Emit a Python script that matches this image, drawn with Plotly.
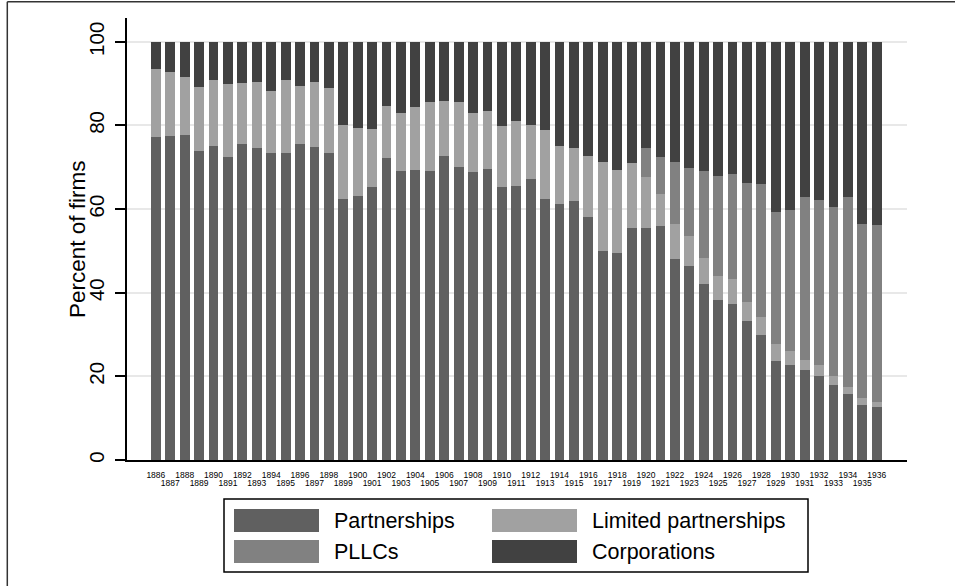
import plotly.graph_objects as go

# Share of firms by legal form, 1886-1936 (percent)
years = list(range(1886, 1937))

partnerships = [
    77.3, 77.6, 77.7, 73.9, 75.1, 72.4, 75.5, 74.7, 73.5, 73.3,
    75.5, 74.9, 73.3, 62.5, 63.2, 65.2, 72.3, 69.2, 69.3, 69.2,
    72.7, 70.1, 68.8, 69.7, 65.3, 65.6, 67.1, 62.5, 61.3, 61.9,
    58.2, 49.9, 49.5, 55.6, 55.4, 55.9, 48.1, 46.3, 42.0, 38.2,
    37.2, 33.2, 29.9, 23.7, 22.7, 21.6, 20.1, 17.9, 15.8, 13.1,
    12.7,
]
limited_partnerships = [
    16.2, 15.1, 13.9, 15.2, 15.7, 17.6, 14.6, 15.8, 14.7, 17.5,
    13.9, 15.5, 15.6, 17.5, 16.2, 13.9, 12.3, 13.7, 15.2, 16.3,
    13.1, 15.5, 14.1, 13.7, 14.5, 15.4, 12.9, 16.4, 13.8, 12.8,
    14.5, 21.3, 19.8, 15.4, 12.3, 7.7, 8.3, 7.2, 6.2, 5.7,
    6.1, 4.7, 4.2, 4.1, 3.3, 2.2, 2.7, 2.1, 1.7, 1.8,
    1.1,
]
pllcs = [
    0, 0, 0, 0, 0, 0, 0, 0, 0, 0,
    0, 0, 0, 0, 0, 0, 0, 0, 0, 0,
    0, 0, 0, 0, 0, 0, 0, 0, 0, 0,
    0, 0, 0, 0, 7.0, 8.9, 14.8, 16.4, 20.9, 24.1,
    25.2, 28.3, 32.0, 31.4, 33.8, 39.1, 39.4, 40.4, 45.4, 41.5,
    42.4,
]
corporations = [
    6.5, 7.3, 8.4, 10.9, 9.2, 10.0, 9.9, 9.5, 11.8, 9.2,
    10.6, 9.6, 11.1, 20.0, 20.6, 20.9, 15.4, 17.1, 15.5, 14.5,
    14.2, 14.4, 17.1, 16.6, 20.2, 19.0, 20.0, 21.1, 24.9, 25.3,
    27.3, 28.8, 30.7, 29.0, 25.3, 27.5, 28.8, 30.1, 30.9, 32.0,
    31.5, 33.8, 33.9, 40.8, 40.2, 37.1, 37.8, 39.6, 37.1, 43.6,
    43.8,
]

series = [
    ("Partnerships", partnerships, "#606060"),
    ("Limited partnerships", limited_partnerships, "#a1a1a1"),
    ("PLLCs", pllcs, "#818181"),
    ("Corporations", corporations, "#414141"),
]

y_ticks = [0, 20, 40, 60, 80, 100]
even_years = [y for y in years if y % 2 == 0]
odd_years = [y for y in years if y % 2 == 1]

W, H = 955, 586
L, R, T, B = 127, 907, 18, 460   # plot area in pixels
FONT = "Liberation Sans, Arial, sans-serif"


def px_x(x):
    return (x - L) / (R - L)


def px_y(y):
    return (B - y) / (B - T)


fig = go.Figure()
for name, vals, color in series:
    fig.add_trace(go.Bar(
        x=years, y=vals, name=name,
        marker=dict(color=color, line=dict(width=0)),
        showlegend=False,
    ))

fig.update_layout(
    barmode="stack",
    bargap=0.32,
    width=W, height=H,
    margin=dict(l=L, r=W - R, t=T, b=H - B, autoexpand=False),
    paper_bgcolor="white",
    plot_bgcolor="white",
    font=dict(family=FONT, color="black"),
    xaxis=dict(
        range=[1884.0, 1938.1],
        tickmode="array",
        tickvals=even_years,
        ticktext=[str(y) for y in even_years],
        ticks="",
        tickfont=dict(size=8.5, color="black"),
        ticklabelstandoff=6,
        showgrid=False,
        zeroline=False,
        showline=True, linecolor="black", linewidth=1.5,
        fixedrange=True,
    ),
    xaxis2=dict(
        overlaying="x",
        anchor="y",
        side="bottom",
        matches="x",
        tickmode="array",
        tickvals=odd_years,
        ticktext=[str(y) for y in odd_years],
        ticks="",
        tickfont=dict(size=8.5, color="black"),
        ticklabelstandoff=16,
        showgrid=False,
        zeroline=False,
        showline=False,
    ),
    yaxis=dict(
        range=[0, 105.7],
        tickmode="array",
        tickvals=y_ticks,
        ticktext=[str(v) for v in y_ticks],
        tickangle=-90,
        ticks="outside", ticklen=10, tickwidth=1.5, tickcolor="black",
        tickfont=dict(size=20.5, color="black"),
        ticklabelstandoff=3,
        showgrid=True, gridcolor="#e8e8e8", gridwidth=1.5,
        zeroline=False,
        showline=True, linecolor="black", linewidth=1.5,
        automargin=False,
    ),
)

# odd-year labels sit on a second, overlaid axis one row lower
fig.add_trace(go.Scatter(x=odd_years, y=[None] * len(odd_years), xaxis="x2",
                         yaxis="y", showlegend=False, hoverinfo="skip"))

shapes = []
# outer frame (top and left edges)
shapes.append(dict(type="line", xref="paper", yref="paper",
                   x0=px_x(7.3), x1=px_x(W + 5), y0=px_y(1.7), y1=px_y(1.7),
                   line=dict(color="#333333", width=1.5)))
shapes.append(dict(type="line", xref="paper", yref="paper",
                   x0=px_x(7.3), x1=px_x(7.3), y0=px_y(1.7), y1=px_y(H + 5),
                   line=dict(color="#333333", width=1.5)))

# legend box
shapes.append(dict(type="rect", xref="paper", yref="paper",
                   x0=px_x(224), x1=px_x(808), y0=px_y(499), y1=px_y(572),
                   line=dict(color="black", width=1.5), fillcolor="white"))

legend_cells = [
    (234, 509, series[0]),
    (492, 509, series[1]),
    (234, 540, series[2]),
    (492, 540, series[3]),
]
annotations = []
for sx, sy, (name, _, color) in legend_cells:
    shapes.append(dict(type="rect", xref="paper", yref="paper",
                       x0=px_x(sx), x1=px_x(sx + 85),
                       y0=px_y(sy), y1=px_y(sy + 23),
                       line=dict(width=0), fillcolor=color))
    annotations.append(dict(xref="paper", yref="paper",
                            x=px_x(sx + 98), y=px_y(sy + 11.5),
                            xanchor="left", yanchor="middle",
                            text=name, showarrow=False,
                            font=dict(size=21.5, color="black", family=FONT)))

# y-axis title
annotations.append(dict(xref="paper", yref="paper",
                        x=px_x(77), y=0.5,
                        xanchor="center", yanchor="middle",
                        text="Percent of firms", textangle=-90, showarrow=False,
                        font=dict(size=22.5, color="black", family=FONT)))

fig.update_layout(shapes=shapes, annotations=annotations)

fig.write_html("out.html")
